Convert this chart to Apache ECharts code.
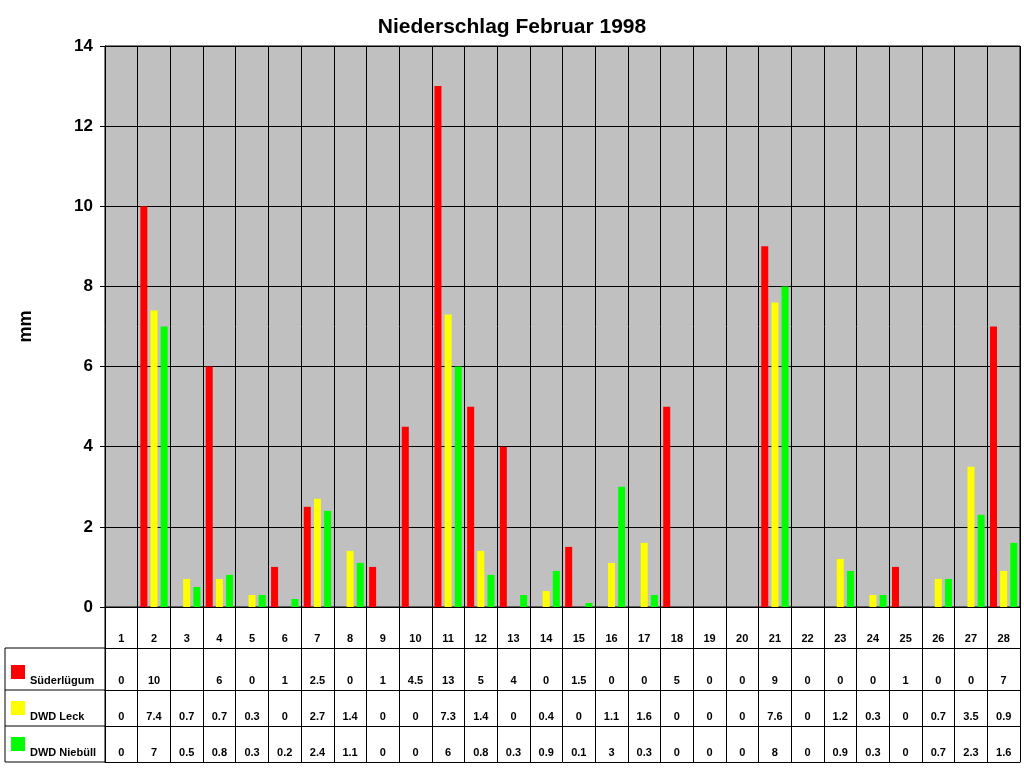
<!DOCTYPE html>
<html><head><meta charset="utf-8">
<script src="https://cdn.jsdelivr.net/npm/echarts@6/dist/echarts.min.js"></script>
<style>html,body{margin:0;padding:0;background:#fff}#c{width:1024px;height:768px}</style>
</head><body><div id="c"></div>
<script>
const days = Array.from({length:28},(_,i)=>String(i+1));
const suederluegum = [0,10,null,6,0,1,2.5,0,1,4.5,13,5,4,0,1.5,0,0,5,0,0,9,0,0,0,1,0,0,7];
const leck = [0,7.4,0.7,0.7,0.3,0,2.7,1.4,0,0,7.3,1.4,0,0.4,0,1.1,1.6,0,0,0,7.6,0,1.2,0.3,0,0.7,3.5,0.9];
const niebuell = [0,7,0.5,0.8,0.3,0.2,2.4,1.1,0,0,6,0.8,0.3,0.9,0.1,3,0.3,0,0,0,8,0,0.9,0.3,0,0.7,2.3,1.6];
const yTicks = [0,2,4,6,8,10,12,14];
const names = ['Süderlügum','DWD Leck','DWD Niebüll'];
const colors = ['#ff0000','#ffff00','#00ff00'];
const rows = [days, suederluegum, leck, niebuell];
const L=105, R=4;
const rowBounds = [[607,648],[648,690],[690,726],[726,762]];
const chart = echarts.init(document.getElementById('c'));
const grids=[{left:L,right:R,top:46,height:561,show:true,backgroundColor:'#c0c0c0',borderColor:'#000',borderWidth:1}];
const xAxes=[{type:'category',data:days,gridIndex:0,axisLabel:{show:false},axisTick:{show:false},
  axisLine:{lineStyle:{color:'#000'}},splitLine:{show:true,interval:0,lineStyle:{color:'#000',width:1}}}];
const yAxes=[{type:'value',gridIndex:0,min:0,max:14,interval:2,
  axisLabel:{fontWeight:'bold',fontSize:17,color:'#000',fontFamily:'Liberation Sans',margin:12},
  axisLine:{show:true,lineStyle:{color:'#000'}},axisTick:{show:true,lineStyle:{color:'#000'}},
  splitLine:{lineStyle:{color:'#000',width:1}},
  name:'mm',nameLocation:'middle',nameGap:70,nameTextStyle:{fontWeight:'bold',fontSize:18,color:'#000',fontFamily:'Liberation Sans'}}];
rowBounds.forEach((b,i)=>{
  grids.push({left:L,right:R,top:b[0],height:b[1]-b[0],show:false});
  const arr=rows[i];
  xAxes.push({type:'category',data:days,gridIndex:i+1,position:'bottom',
    axisTick:{show:false},axisLine:{show:true,lineStyle:{color:'#000'}},
    splitLine:{show:true,interval:0,lineStyle:{color:'#000',width:1}},
    axisLabel:{interval:0,margin:-15,fontSize:11,fontWeight:'bold',color:'#000',fontFamily:'Arial, Liberation Sans',
      formatter:(v,idx)=>arr[idx]==null?'':String(arr[idx])}});
  yAxes.push({type:'value',gridIndex:i+1,min:0,max:1,show:false});
});
const series=[suederluegum,leck,niebuell].map((d,i)=>({type:'bar',name:names[i],data:d,xAxisIndex:0,yAxisIndex:0,
  barWidth:7,barGap:'45%',itemStyle:{color:colors[i]}}));
const graphic=[];
// left column of table
graphic.push({type:'line',shape:{x1:5,y1:648,x2:5,y2:762},style:{stroke:'#000',lineWidth:1}});
graphic.push({type:'line',shape:{x1:L,y1:607,x2:L,y2:762},style:{stroke:'#000',lineWidth:1}});
[648,690,726,762].forEach(y=>graphic.push({type:'line',shape:{x1:5,y1:y,x2:L,y2:y},style:{stroke:'#000',lineWidth:1}}));
[1,2,3].forEach((r,i)=>{
  const yb=rowBounds[r][1];
  graphic.push({type:'rect',shape:{x:11,y:yb-25,width:14,height:14},style:{fill:colors[i]}});
  graphic.push({type:'text',x:30,y:yb-15,style:{text:names[i],fontSize:11,fontWeight:'bold',fill:'#000',fontFamily:'Arial, Liberation Sans'}});
});
chart.setOption({
  animation:false,
  title:{text:'Niederschlag Februar 1998',left:'center',top:12,textStyle:{fontSize:21,fontWeight:'bold',color:'#000',fontFamily:'Liberation Sans'}},
  grid:grids,xAxis:xAxes,yAxis:yAxes,series:series,graphic:graphic
});
</script></body></html>
